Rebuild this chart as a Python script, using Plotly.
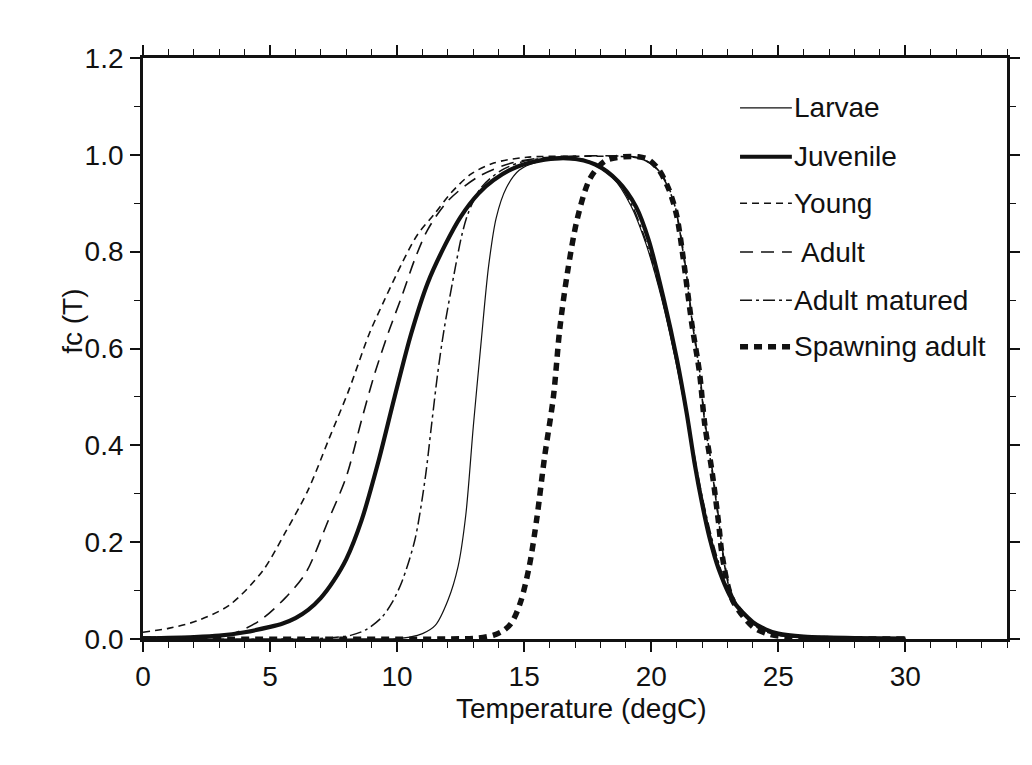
import plotly.graph_objects as go

# ---- data: temperature (degC) and relative consumption fc(T) per life stage ----
series_names = ["Larvae", "Juvenile", "Young", "Adult", "Adult matured", "Spawning adult"]

larvae_t = [0, 8, 10, 10.5, 11, 11.5, 12, 12.4, 12.7, 13.0, 13.3, 13.6, 13.9, 14.3, 14.8, 15.5,
            16.5, 17.5, 18.5, 19.2, 19.8, 20.4, 21.0, 21.5, 22.0, 22.5, 23.0, 23.5, 24, 25, 26, 27, 30]
larvae_fc = [0, 0, 0.001, 0.004, 0.011, 0.028, 0.08, 0.15, 0.255, 0.44, 0.61, 0.77, 0.87, 0.932, 0.968, 0.985,
             0.99, 0.985, 0.952, 0.895, 0.815, 0.705, 0.565, 0.43, 0.29, 0.18, 0.1, 0.058, 0.032, 0.011, 0.004, 0.002, 0.001]

juvenile_t = [0, 2, 3.0, 4.0, 5.0, 5.5, 6.0, 6.5, 7.0, 7.5, 8.0, 8.6, 9.25, 9.9, 10.55, 11.2, 11.9, 12.5, 13.2, 13.8, 14.7, 15.8,
              16.8, 17.8, 18.7, 19.4, 19.9, 20.5, 21.0, 21.4, 21.7, 22.0, 22.3, 22.65, 23.2, 24.0, 24.5, 25, 26, 27, 28, 30]
juvenile_fc = [0.001, 0.004, 0.007, 0.014, 0.025, 0.032, 0.043, 0.06, 0.085, 0.12, 0.165, 0.245, 0.364, 0.5, 0.63, 0.735, 0.815, 0.872, 0.92, 0.948, 0.975, 0.99,
               0.993, 0.98, 0.945, 0.893, 0.824, 0.70, 0.58, 0.465, 0.365, 0.28, 0.208, 0.145, 0.08, 0.035, 0.02, 0.011, 0.005, 0.003, 0.002, 0.001]

young_t = [0, 1, 2.1, 3.4, 4.7, 5.6, 6.5, 7.3, 8.1, 8.9, 9.5, 10.2, 10.8, 11.5, 12.1, 12.9, 13.8, 15.1, 17, 19.3,
           19.7, 20.1, 20.5, 20.9, 21.25, 21.6, 21.9, 22.1, 22.4, 22.65, 22.8, 23.2, 24.0, 24.5, 25, 26, 30]
young_fc = [0.014, 0.022, 0.037, 0.07, 0.14, 0.22, 0.308, 0.411, 0.514, 0.63, 0.70, 0.777, 0.835, 0.88, 0.92, 0.96, 0.983, 0.995, 0.997, 0.995,
            0.99, 0.978, 0.952, 0.902, 0.80, 0.66, 0.55, 0.45, 0.345, 0.245, 0.18, 0.085, 0.03, 0.015, 0.008, 0.003, 0.001]

adult_t = [0, 2, 3.4, 4.05, 4.7, 5.6, 6.4, 7.3, 8.0, 8.6, 9.1, 9.65, 10.2, 10.7, 11.2, 12.0, 13.2, 14.5, 16, 19.3,
           19.7, 20.1, 20.5, 20.9, 21.25, 21.6, 21.9, 22.1, 22.4, 22.65, 22.8, 23.2, 24.0, 24.5, 25, 26, 30]
adult_fc = [0.004, 0.005, 0.009, 0.022, 0.042, 0.085, 0.136, 0.246, 0.335, 0.452, 0.545, 0.632, 0.71, 0.785, 0.845, 0.905, 0.955, 0.983, 0.995, 0.996,
            0.99, 0.977, 0.95, 0.90, 0.805, 0.665, 0.555, 0.455, 0.35, 0.25, 0.185, 0.09, 0.032, 0.016, 0.008, 0.003, 0.001]

matured_t = [0, 6, 7.3, 8.2, 8.8, 9.4, 9.8, 10.2, 10.7, 11.1, 11.35, 11.6, 11.85, 12.3, 12.55, 12.8, 13.3, 14.1, 15.1,
             16.5, 17.5, 18.5, 19.2, 19.8, 20.4, 21.0, 21.5, 22.0, 22.5, 23.0, 23.5, 24, 25, 26, 27, 30]
matured_fc = [0, 0, 0.002, 0.008, 0.02, 0.045, 0.075, 0.12, 0.205, 0.33, 0.44, 0.55, 0.64, 0.77, 0.835, 0.88, 0.932, 0.968, 0.988,
              0.994, 0.988, 0.955, 0.9, 0.82, 0.71, 0.57, 0.435, 0.295, 0.185, 0.105, 0.06, 0.034, 0.012, 0.005, 0.002, 0.001]

spawning_t = [0, 12, 13.2, 13.8, 14.2, 14.5, 14.85, 15.2, 15.5, 15.8, 16.15, 16.4, 16.7, 17.1, 17.6, 18.2, 18.9, 19.5,
              19.9, 20.3, 20.7, 21.0, 21.25, 21.6, 21.9, 22.1, 22.4, 22.65, 22.8, 23.2, 24.0, 24.5, 25, 26, 30]
spawning_fc = [0, 0, 0.002, 0.008, 0.018, 0.033, 0.075, 0.15, 0.25, 0.375, 0.5, 0.64, 0.756, 0.87, 0.952, 0.988, 0.996, 0.996,
               0.99, 0.969, 0.928, 0.875, 0.79, 0.65, 0.55, 0.446, 0.343, 0.24, 0.17, 0.08, 0.025, 0.012, 0.006, 0.002, 0.0]

x_ticks = [0, 5, 10, 15, 20, 25, 30]
y_ticks = [0.0, 0.2, 0.4, 0.6, 0.8, 1.0, 1.2]

series_data = [
    (larvae_t, larvae_fc),
    (juvenile_t, juvenile_fc),
    (young_t, young_fc),
    (adult_t, adult_fc),
    (matured_t, matured_fc),
    (spawning_t, spawning_fc),
]

# ---- line styles per stage ----
line_styles = [
    dict(width=1.2, dash="solid"),
    dict(width=4.2, dash="solid"),
    dict(width=1.6, dash="7px,5px"),
    dict(width=1.6, dash="13px,8px"),
    dict(width=1.5, dash="12px,4px,3px,4px"),
    dict(width=5.5, dash="8px,6px"),
]

FONT = "Liberation Sans, Arial, Helvetica, sans-serif"
INK = "#111111"
TEXT_SIZE = 28

fig = go.Figure()
for name, (t, fc), st in zip(series_names, series_data, line_styles):
    fig.add_trace(go.Scatter(
        x=t, y=fc, name=name, mode="lines",
        line=dict(color=INK, width=st["width"], dash=st["dash"], shape="spline", smoothing=0.85),
        showlegend=False,
    ))

axis_common = dict(
    showline=True, linecolor=INK, linewidth=2.8, mirror="ticks",
    ticks="outside", ticklen=10, tickwidth=1.6, tickcolor=INK,
    showgrid=False, zeroline=False,
    tickfont=dict(family=FONT, size=TEXT_SIZE, color=INK),
)

fig.update_xaxes(
    range=[0, 34], tickvals=x_ticks, ticktext=[str(v) for v in x_ticks],
    minor=dict(dtick=1, ticks="outside", ticklen=6, tickwidth=1.4, tickcolor=INK, showgrid=False),
    ticklabelstandoff=0,
    **axis_common,
)
fig.update_yaxes(
    range=[0, 1.2], tickvals=y_ticks, ticktext=[f"{v:.1f}" for v in y_ticks],
    minor=dict(dtick=0.1, ticks="outside", ticklen=6, tickwidth=1.4, tickcolor=INK, showgrid=False),
    ticklabelstandoff=1,
    **axis_common,
)

# ---- key drawn inside the plot area: line sample + label ----
key_rows_y = [0.914, 0.830, 0.750, 0.666, 0.583, 0.503]
key_x0, key_x1 = 0.691, 0.751
shapes = []
annotations = []
for name, st, ky in zip(series_names, line_styles, key_rows_y):
    shapes.append(dict(
        type="line", xref="paper", yref="paper", x0=key_x0, x1=key_x1, y0=ky, y1=ky,
        line=dict(color=INK, width=st["width"], dash=st["dash"]),
    ))
    annotations.append(dict(
        xref="paper", yref="paper", x=key_x1 + (0.008 if name == "Adult" else 0.0), y=ky,
        xanchor="left", yanchor="middle", text=name, showarrow=False,
        font=dict(family=FONT, size=TEXT_SIZE, color=INK),
    ))

# axis titles
annotations.append(dict(
    xref="paper", yref="paper", x=0.5075, y=-0.119, xanchor="center", yanchor="middle",
    text="Temperature (degC)", showarrow=False, font=dict(family=FONT, size=TEXT_SIZE, color=INK),
))
annotations.append(dict(
    xref="paper", yref="paper", x=-0.081, y=0.546, xanchor="center", yanchor="middle",
    text="fc (T)", textangle=-90, showarrow=False, font=dict(family=FONT, size=TEXT_SIZE, color=INK),
))

fig.update_layout(
    width=1032, height=765,
    margin=dict(l=143, r=18, t=58, b=126),
    paper_bgcolor="white", plot_bgcolor="white",
    shapes=shapes, annotations=annotations,
    showlegend=False,
)

fig.write_html("out.html")
